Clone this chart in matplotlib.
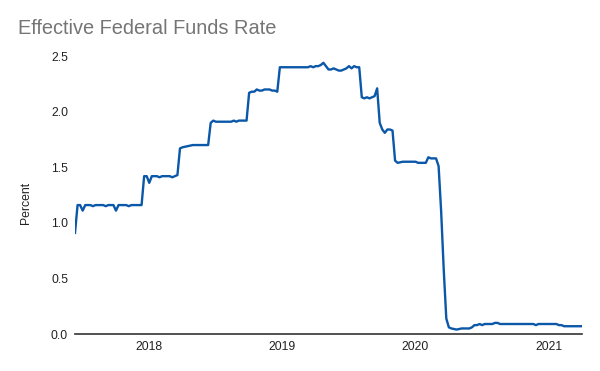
import matplotlib
matplotlib.use("Agg")
import matplotlib.pyplot as plt
import matplotlib.dates as mdates
import matplotlib.ticker as mticker
import pandas as pd

# weekly effective fed funds rate (flat stretches kept as end points)
week_ending = [
    "2017-06-14", "2017-06-21", "2017-06-28", "2017-07-05", "2017-07-12", "2017-07-26",
    "2017-08-02", "2017-08-09", "2017-08-30", "2017-09-06", "2017-09-13", "2017-09-27",
    "2017-10-04", "2017-10-11", "2017-11-01", "2017-11-08", "2017-11-15", "2017-12-13",
    "2017-12-20", "2017-12-27", "2018-01-03", "2018-01-10", "2018-01-24", "2018-01-31",
    "2018-02-07", "2018-02-28", "2018-03-07", "2018-03-14", "2018-03-21", "2018-03-28",
    "2018-04-04", "2018-04-18", "2018-05-02", "2018-06-13", "2018-06-20", "2018-06-27",
    "2018-07-04", "2018-08-15", "2018-08-22", "2018-08-29", "2018-09-05", "2018-09-26",
    "2018-10-03", "2018-10-10", "2018-10-17", "2018-10-24", "2018-10-31", "2018-11-07",
    "2018-11-14", "2018-11-28", "2018-12-05", "2018-12-12", "2018-12-19", "2018-12-26",
    "2019-03-13", "2019-03-20", "2019-03-27", "2019-04-03", "2019-04-10", "2019-04-17",
    "2019-04-24", "2019-05-01", "2019-05-08", "2019-05-15", "2019-05-22", "2019-05-29",
    "2019-06-05", "2019-06-12", "2019-06-19", "2019-06-26", "2019-07-03", "2019-07-10",
    "2019-07-17", "2019-07-24", "2019-07-31", "2019-08-07", "2019-08-14", "2019-08-21",
    "2019-08-28", "2019-09-04", "2019-09-11", "2019-09-18", "2019-09-25", "2019-10-02",
    "2019-10-09", "2019-10-16", "2019-10-23", "2019-10-30", "2019-11-06", "2019-11-13",
    "2019-11-27", "2019-12-04", "2019-12-25", "2020-01-01", "2020-01-08", "2020-01-29",
    "2020-02-05", "2020-02-12", "2020-02-26", "2020-03-04", "2020-03-11", "2020-03-18",
    "2020-03-25", "2020-04-01", "2020-04-08", "2020-04-22", "2020-05-06", "2020-05-27",
    "2020-06-03", "2020-06-10", "2020-06-17", "2020-06-24", "2020-07-01", "2020-07-08",
    "2020-07-29", "2020-08-05", "2020-08-12", "2020-08-19", "2020-11-18", "2020-11-25",
    "2020-12-02", "2021-01-13", "2021-01-20", "2021-01-27", "2021-02-03", "2021-02-10",
    "2021-03-31",
]
rate = [
    0.91, 1.16, 1.16, 1.11, 1.16, 1.16,
    1.15, 1.16, 1.16, 1.15, 1.16, 1.16,
    1.11, 1.16, 1.16, 1.15, 1.16, 1.16,
    1.42, 1.42, 1.36, 1.42, 1.42, 1.41,
    1.42, 1.42, 1.41, 1.42, 1.43, 1.67,
    1.68, 1.69, 1.70, 1.70, 1.90, 1.92,
    1.91, 1.91, 1.92, 1.91, 1.92, 1.92,
    2.17, 2.18, 2.18, 2.20, 2.19, 2.19,
    2.20, 2.20, 2.19, 2.19, 2.18, 2.40,
    2.40, 2.41, 2.40, 2.41, 2.41, 2.42,
    2.44, 2.41, 2.38, 2.38, 2.39, 2.38,
    2.37, 2.37, 2.38, 2.39, 2.41, 2.39,
    2.41, 2.40, 2.40, 2.13, 2.12, 2.13,
    2.12, 2.13, 2.14, 2.21, 1.90, 1.84,
    1.81, 1.84, 1.84, 1.83, 1.56, 1.54,
    1.55, 1.55, 1.55, 1.55, 1.54, 1.54,
    1.59, 1.58, 1.58, 1.51, 1.10, 0.58,
    0.14, 0.06, 0.05, 0.04, 0.05, 0.05,
    0.06, 0.08, 0.08, 0.09, 0.08, 0.09,
    0.09, 0.10, 0.10, 0.09, 0.09, 0.08,
    0.09, 0.09, 0.09, 0.08, 0.08, 0.07,
    0.07,
]
year_ticks = ["2018-01-01", "2019-01-01", "2020-01-01", "2021-01-01"]
y_ticks = [0.0, 0.5, 1.0, 1.5, 2.0, 2.5]

dates = pd.to_datetime(week_ending)

plt.rcParams["font.family"] = ["Liberation Sans", "DejaVu Sans"]

fig = plt.figure(figsize=(6.0, 3.71), dpi=100)
ax = fig.add_axes([0.125, 0.0997, 0.845, 0.749])

ax.plot(dates, rate, color="#0b57a8", linewidth=1.7, solid_joinstyle="round")

ax.set_xlim(dates[0], dates[-1])
ax.set_ylim(0, 2.5)
ax.set_xticks(pd.to_datetime(year_ticks))
ax.xaxis.set_major_formatter(mdates.DateFormatter("%Y"))
ax.set_yticks(y_ticks)
ax.yaxis.set_major_formatter(mticker.FormatStrFormatter("%.1f"))
ax.tick_params(axis="both", length=0, labelsize=8.8, colors="#222222", pad=5)

for side in ("top", "right", "left"):
    ax.spines[side].set_visible(False)
ax.spines["bottom"].set_color("#333333")
ax.spines["bottom"].set_linewidth(1.2)

fig.text(18 / 600, 1 - 34.3 / 371, "Effective Federal Funds Rate", fontsize=14.4,
         color="#757575", va="baseline", ha="left")
fig.text(26 / 600, 1 - 203 / 371, "Percent", fontsize=8.8, color="#222222",
         rotation=90, va="center", ha="center")

fig.savefig("out.png", dpi=100)
